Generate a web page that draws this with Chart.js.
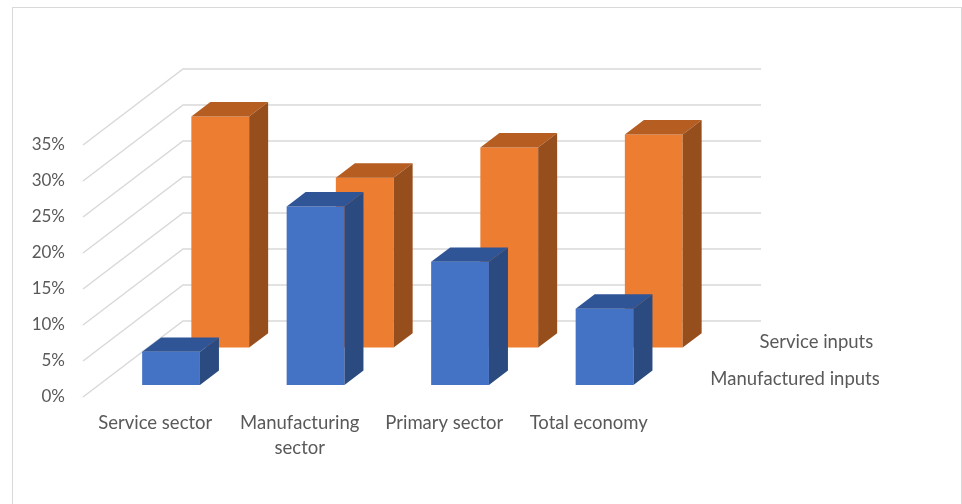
<!DOCTYPE html>
<html>
<head>
<meta charset="utf-8">
<script src="https://cdn.jsdelivr.net/npm/chart.js@4"></script>
<style>
  html, body { margin: 0; padding: 0; background: #fff; }
  #wrap { position: relative; width: 962px; height: 504px; overflow: hidden; }
  #wrap canvas { position: absolute; left: 0; top: 0; }
  #frame { position: absolute; left: 12px; top: 7px; width: 948px; height: 540px; border: 1px solid #d9d9d9; pointer-events: none; }
</style>
</head>
<body>
<div id="wrap">
  <canvas id="chart" width="962" height="504"></canvas>
  <div id="frame"></div>
</div>
<script>
var sectors = ["Service sector", "Manufacturing sector", "Primary sector", "Total economy"];
var manufacturedInputs = [4.6, 24.8, 17.1, 10.6];
var serviceInputs = [32.1, 23.6, 27.8, 29.6];
var percentTicks = [0, 5, 10, 15, 20, 25, 30, 35];

// fake 3D: the floor runs back along this vector, each series row sits at a depth fraction
var FLOOR = { dx: 100, dy: -76 };
var BAR_DEPTH = 0.19;
var rows = [
  { depth: 0.158, top: "#2f5597", side: "#2a4a80" },
  { depth: 0.65, top: "#b65d22", side: "#964f1c" }
];
var textColor = "#595959";
var labelFont = "18.5px Lato, 'Open Sans', sans-serif";

Chart.defaults.font.family = "Lato, 'Open Sans', sans-serif";
Chart.defaults.font.size = 17;
Chart.defaults.color = textColor;

function wrapLabel(s) {
  if (s.length <= 15) return s;
  var i = s.lastIndexOf(" ");
  return [s.slice(0, i), s.slice(i + 1)];
}

var box3d = {
  id: "box3d",
  beforeDatasetsDraw: function (chart) {
    var ctx = chart.ctx, y = chart.scales.y, area = chart.chartArea;
    ctx.save();
    ctx.strokeStyle = "#d9d9d9";
    ctx.lineWidth = 1.5;
    percentTicks.forEach(function (v) {
      var py = y.getPixelForValue(v);
      ctx.beginPath();
      ctx.moveTo(area.left, py);
      ctx.lineTo(area.left + FLOOR.dx, py + FLOOR.dy);
      ctx.lineTo(area.right + FLOOR.dx, py + FLOOR.dy);
      ctx.stroke();
    });
    ctx.restore();
  },
  beforeDatasetDraw: function (chart, args) {
    var row = rows[args.index];
    chart.ctx.save();
    chart.ctx.translate(FLOOR.dx * row.depth, FLOOR.dy * row.depth);
  },
  afterDatasetDraw: function (chart, args) {
    var ctx = chart.ctx, row = rows[args.index];
    var bx = FLOOR.dx * BAR_DEPTH, by = FLOOR.dy * BAR_DEPTH;
    args.meta.data.forEach(function (bar) {
      var p = bar.getProps(["x", "y", "base", "width"], true);
      var l = p.x - p.width / 2, r = p.x + p.width / 2;
      ctx.fillStyle = row.top;
      ctx.beginPath();
      ctx.moveTo(l, p.y);
      ctx.lineTo(l + bx, p.y + by);
      ctx.lineTo(r + bx, p.y + by);
      ctx.lineTo(r, p.y);
      ctx.closePath();
      ctx.fill();
      ctx.fillStyle = row.side;
      ctx.beginPath();
      ctx.moveTo(r, p.y);
      ctx.lineTo(r + bx, p.y + by);
      ctx.lineTo(r + bx, p.base + by);
      ctx.lineTo(r, p.base);
      ctx.closePath();
      ctx.fill();
    });
    ctx.restore();
  },
  afterDatasetsDraw: function (chart) {
    // series names along the right edge of the floor
    var ctx = chart.ctx, y = chart.scales.y, area = chart.chartArea;
    ctx.save();
    ctx.fillStyle = textColor;
    ctx.font = labelFont;
    ctx.textAlign = "left";
    ctx.textBaseline = "middle";
    chart.data.datasets.forEach(function (ds, i) {
      var d = rows[i].depth + BAR_DEPTH / 2;
      ctx.fillText(ds.label, area.right + FLOOR.dx * d + 24, y.getPixelForValue(0) + FLOOR.dy * d + 1.5);
    });
    ctx.restore();
  }
};

new Chart(document.getElementById("chart"), {
  type: "bar",
  data: {
    labels: sectors,
    datasets: [
      { label: "Manufactured inputs", data: manufacturedInputs, backgroundColor: "#4472c4", clip: false },
      { label: "Service inputs", data: serviceInputs, backgroundColor: "#ed7d31", clip: false }
    ]
  },
  options: {
    responsive: false,
    animation: false,
    devicePixelRatio: 1,
    layout: { padding: { top: 145, left: 0, right: 301, bottom: 0 } },
    datasets: { bar: { grouped: false, categoryPercentage: 1, barPercentage: 0.4 } },
    plugins: { legend: { display: false }, tooltip: { enabled: false } },
    scales: {
      x: {
        afterFit: function (axis) { axis.height = 107; },
        grid: { display: false, drawTicks: false },
        border: { display: false },
        ticks: {
          autoSkip: false,
          maxRotation: 0,
          padding: 13,
          font: { size: 18.5, lineHeight: 1.36 },
          callback: function (v) { return wrapLabel(sectors[v]); }
        }
      },
      y: {
        min: 0,
        max: 35,
        afterFit: function (axis) { axis.width = 83; },
        grid: { display: false, drawTicks: false },
        border: { display: false },
        ticks: {
          stepSize: 5,
          padding: 18,
          callback: function (v) { return v + "%"; }
        }
      }
    }
  },
  plugins: [box3d]
});
</script>
</body>
</html>
